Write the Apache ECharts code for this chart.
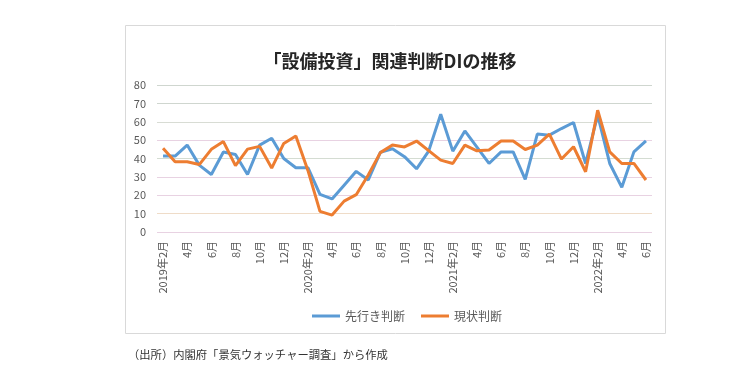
<!DOCTYPE html>
<html>
<head>
<meta charset="utf-8">
<script src="https://cdn.jsdelivr.net/npm/echarts@6/dist/echarts.min.js"></script>
<style>
  html, body { margin: 0; padding: 0; background: #fff; }
  #chart { width: 734px; height: 377px; }
</style>
</head>
<body>
<div id="chart"></div>
<script>
// 月（2019年2月～2022年6月）
const months = [
  '2019年2月', '3月', '4月', '5月', '6月', '7月', '8月', '9月', '10月', '11月', '12月',
  '2020年1月', '2020年2月', '3月', '4月', '5月', '6月', '7月', '8月', '9月', '10月', '11月', '12月',
  '2021年1月', '2021年2月', '3月', '4月', '5月', '6月', '7月', '8月', '9月', '10月', '11月', '12月',
  '2022年1月', '2022年2月', '3月', '4月', '5月', '6月'
]
// 先行き判断DI
const outlookDI = [
  41.3, 41.3, 47.3, 36.4, 31.3, 43.5, 42.2, 31.3, 47.3, 51, 40, 35,
  35, 20.5, 18, 25.5, 33, 28.3, 43.3, 45.3, 41, 34.4, 44, 64.1,
  44, 55, 46.2, 37.3, 43.6, 43.6, 28.6, 53.3, 52.7, 56.3, 59.6, 37.3,
  63.6, 37.3, 24.3, 43.6, 49.6
]
// 現状判断DI
const currentDI = [
  45.6, 38.2, 38.2, 36.7, 45, 49.2, 36.1, 45.1, 46.6, 34.8, 48.2, 52.3,
  33.5, 11.2, 9.2, 16.8, 20.3, 31, 43.2, 47.3, 46.3, 49.5, 44.3, 39.1,
  37.3, 47.3, 44.2, 44.6, 49.5, 49.5, 44.9, 47.3, 53.3, 39.7, 46.4, 32.8,
  66.3, 43.6, 37.3, 37.3, 28.3
]
const seriesNames = ['先行き判断', '現状判断']
const yTicks = [0, 80, 10]

const chart = echarts.init(document.getElementById('chart'))
const option = {
  animation: false,
  textStyle: { fontFamily: '"Noto Sans CJK JP", sans-serif' },
  title: {
    text: '「設備投資」関連判断DIの推移',
    left: 385,
    textAlign: 'center',
    top: 47,
    textStyle: { fontSize: 18, fontWeight: 'bold', color: '#262626' }
  },
  grid: { left: 157, right: 82, top: 85, bottom: 145 },
  legend: {
    data: seriesNames,
    left: 307,
    top: 305,
    icon: 'rect',
    itemWidth: 28,
    itemHeight: 3,
    itemGap: 16,
    textStyle: { fontSize: 12, color: '#595959' }
  },
  xAxis: {
    type: 'category',
    data: months,
    axisLine: { show: false },
    axisTick: { show: false },
    axisLabel: {
      interval: 1,
      rotate: 90,
      margin: 9,
      fontSize: 11,
      color: '#595959'
    }
  },
  yAxis: {
    type: 'value',
    min: yTicks[0],
    max: yTicks[1],
    interval: yTicks[2],
    axisLabel: { fontSize: 11, color: '#595959', margin: 11 },
    splitLine: {
      lineStyle: {
        width: 1,
        color: ['#e8d2e2', '#efdcc8', '#e8d2e2', '#e8d2e2', '#d4dcd2', '#e8d2e2', '#d8dcd4', '#cfd6cf', '#cfd6cf']
      }
    }
  },
  graphic: [
    {
      type: 'rect',
      shape: { x: 125.5, y: 25.5, width: 540, height: 308 },
      style: { fill: 'none', stroke: '#d9d9d9', lineWidth: 1 },
      silent: true
    },
    {
      type: 'text',
      left: 128,
      top: 349,
      style: {
        text: '（出所）内閣府「景気ウォッチャー調査」から作成',
        fontSize: 11.3,
        fill: '#333',
        fontFamily: '"Noto Sans CJK JP", sans-serif'
      }
    }
  ],
  series: [
    {
      name: seriesNames[0],
      type: 'line',
      data: outlookDI,
      showSymbol: false,
      lineStyle: { width: 3, color: '#5b9bd5' },
      itemStyle: { color: '#5b9bd5' }
    },
    {
      name: seriesNames[1],
      type: 'line',
      data: currentDI,
      showSymbol: false,
      lineStyle: { width: 3, color: '#ed7d31' },
      itemStyle: { color: '#ed7d31' }
    }
  ]
}
chart.setOption(option)
</script>
</body>
</html>
